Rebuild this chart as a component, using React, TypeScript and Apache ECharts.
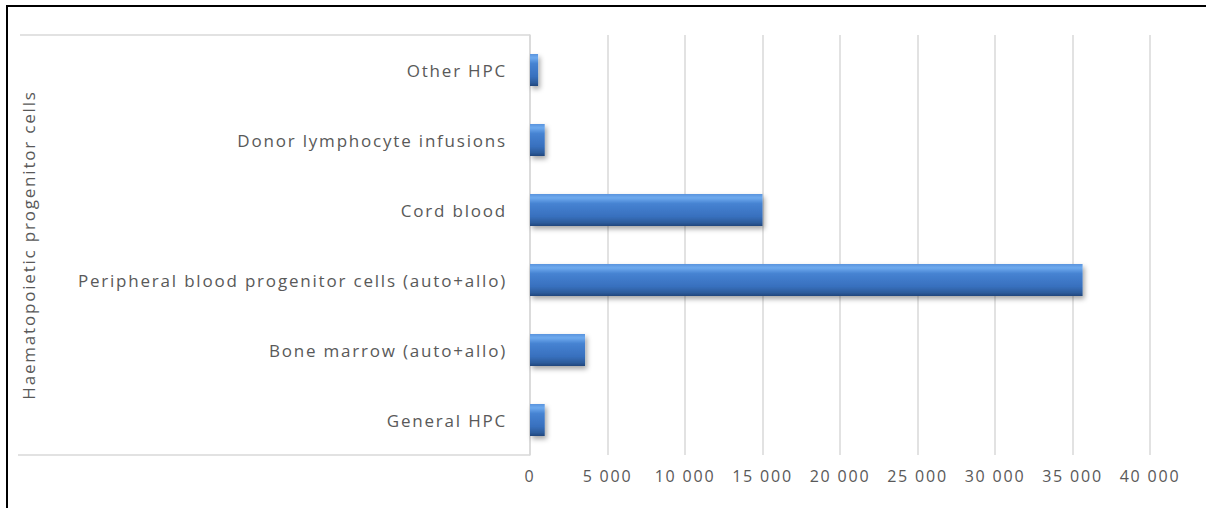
import React, { useEffect, useRef } from "react";
import * as echarts from "echarts";

const categories = [
  "General HPC",
  "Bone marrow (auto+allo)",
  "Peripheral blood progenitor cells (auto+allo)",
  "Cord blood",
  "Donor lymphocyte infusions",
  "Other HPC",
];
const values = [950, 3550, 35650, 15000, 950, 520];
const axisTitle = "Haematopoietic progenitor cells";

const fmt = (v: number) => String(v).replace(/\B(?=(\d{3})+(?!\d))/g, " ");

export default function App() {
  const ref = useRef<HTMLDivElement>(null);
  useEffect(() => {
    if (!ref.current) return;
    const chart = echarts.init(ref.current, undefined, { renderer: "svg" });
    const font = "'Open Sans', Lato, sans-serif";
    chart.setOption({
      animation: false,
      backgroundColor: "#ffffff",
      textStyle: { fontFamily: font },
      grid: { left: 530, right: 56, top: 35, bottom: 53, containLabel: false },
      xAxis: {
        type: "value",
        min: 0,
        max: 40000,
        interval: 5000,
        axisLine: { show: false },
        axisTick: { show: false },
        splitLine: { show: true, lineStyle: { color: "#d9d9d9", width: 1.5 } },
        axisLabel: {
          color: "#595959",
          fontSize: 16,
          fontFamily: font,
          margin: 13,
          formatter: (v: number) => fmt(v),
        },
      },
      yAxis: {
        type: "category",
        data: categories,
        axisLine: { show: true, lineStyle: { color: "#d9d9d9", width: 1.5 } },
        axisTick: { show: false },
        axisLabel: { color: "#595959", fontSize: 17, fontFamily: font, margin: 23 },
        name: axisTitle,
        nameLocation: "middle",
        nameRotate: 90,
        nameGap: 493,
        nameTextStyle: { color: "#595959", fontSize: 17, fontFamily: font },
      },
      series: [
        {
          type: "bar",
          data: values,
          barWidth: 32,
          itemStyle: {
            color: new echarts.graphic.LinearGradient(0, 0, 0, 1, [
              { offset: 0, color: "#5a94de" },
              { offset: 0.12, color: "#6eaaee" },
              { offset: 0.3, color: "#4683d2" },
              { offset: 0.7, color: "#3870be" },
              { offset: 0.9, color: "#2d5c9b" },
              { offset: 1, color: "#21467c" },
            ]),
            shadowColor: "rgba(0,0,0,0.35)",
            shadowBlur: 5,
            shadowOffsetX: 2,
            shadowOffsetY: 3,
          },
        },
      ],
      graphic: [
        { type: "line", shape: { x1: 7, y1: 6, x2: 7, y2: 508 }, style: { stroke: "#000", lineWidth: 2 } },
        { type: "line", shape: { x1: 6, y1: 6, x2: 1206, y2: 6 }, style: { stroke: "#000", lineWidth: 2 } },
        { type: "line", shape: { x1: 20, y1: 35, x2: 530, y2: 35 }, style: { stroke: "#d9d9d9", lineWidth: 1.5 } },
        { type: "line", shape: { x1: 18, y1: 455, x2: 530, y2: 455 }, style: { stroke: "#d9d9d9", lineWidth: 1.5 } },
      ],
    });
    return () => chart.dispose();
  }, []);
  return (
    <div
      ref={ref}
      style={{ position: "absolute", left: 0, top: 0, width: 1206, height: 508, letterSpacing: "1.8px" }}
    />
  );
}
